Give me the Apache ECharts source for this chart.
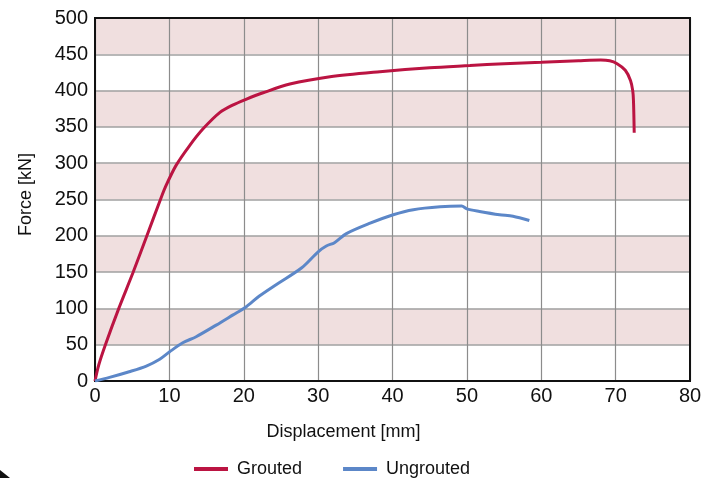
<!DOCTYPE html>
<html>
<head>
<meta charset="utf-8">
<script src="https://cdn.jsdelivr.net/npm/echarts@6/dist/echarts.min.js"></script>
<style>
html,body{margin:0;padding:0;background:#fff;}
#chart{width:716px;height:478px;}
</style>
</head>
<body>
<div id="chart"></div>
<script>
const groutedX = [0,0.5,1.4,3.2,5.1,6.9,8.8,9.5,10.9,12.7,14.5,16.8,18.5,20.3,22.6,26.2,31.6,38.3,45,50.4,55,60,65,68,69.2,70.2,71.3,72.0,72.3,72.4,72.5];
const groutedY = [0,22,50,100,149,198,250,268,297,324,347,370,380,388,397,409,419,426,431.5,434.5,437,439,441,442,441,437,428,414,400,386,342];
const ungroutedX = [0,1.95,4.6,6.9,8.7,10,11.8,13.6,16.3,18.5,20.3,22.1,24.4,27.8,30,31.1,32.2,33.8,36.9,40.1,42.8,46.4,49.3,50,51.7,54.4,56.2,58.4];
const ungroutedY = [0,5,12.8,20.6,30,40,52.6,61,77,90.7,102,117,133,156,178,186,190.5,203,217,229,236,240,241,237,233.5,229,227,221];
const seriesNames = ['Grouted','Ungrouted'];
const xTicks = [0,10,20,30,40,50,60,70,80];
const yTicks = [0,50,100,150,200,250,300,350,400,450,500];

const zip = (xs, ys) => xs.map((x, i) => [x, ys[i]]);
const font = 'Liberation Sans, Arial, Helvetica, sans-serif';

const chart = echarts.init(document.getElementById('chart'));
chart.setOption({
  animation: false,
  grid: {left: 95, top: 18, right: 26, bottom: 97, show: true, borderColor: '#111', borderWidth: 2, backgroundColor: 'transparent', z: 3},
  legend: {
    data: seriesNames,
    top: 455, left: 189,
    itemWidth: 34, itemHeight: 4, itemGap: 41,
    icon: 'rect',
    textStyle: {fontFamily: font, fontSize: 18, color: '#111', padding: [0,0,0,4]}
  },
  xAxis: {
    type: 'value', min: xTicks[0], max: xTicks[xTicks.length-1], interval: 10,
    name: 'Displacement [mm]', nameLocation: 'middle', nameGap: 42,
    nameTextStyle: {fontFamily: font, fontSize: 18, color: '#111', padding: [0, 98, 0, 0]},
    axisLine: {show: true, onZero: false, lineStyle: {color: '#111', width: 2}},
    axisTick: {show: false},
    axisLabel: {fontFamily: font, fontSize: 20, color: '#111', margin: 5},
    splitLine: {show: true, lineStyle: {color: '#8c8c8c', width: 1.2}}
  },
  yAxis: {
    type: 'value', min: yTicks[0], max: yTicks[yTicks.length-1], interval: 50,
    name: 'Force [kN]', nameLocation: 'middle', nameGap: 60,
    nameTextStyle: {fontFamily: font, fontSize: 18, color: '#111', padding: [0, 0, 0, 10]},
    axisLine: {show: true, onZero: false, lineStyle: {color: '#111', width: 2}},
    axisTick: {show: false},
    axisLabel: {fontFamily: font, fontSize: 20, color: '#111', margin: 7},
    splitLine: {show: true, lineStyle: {color: '#a0a0a0', width: 1.5}},
    splitArea: {show: true, areaStyle: {color: ['#ffffff', '#f0dfdf']}}
  },
  graphic: [{type: 'polygon', shape: {points: [[0,470],[10,478],[0,478]]}, style: {fill: '#111'}}],
  series: [
    {name: seriesNames[0], type: 'line', data: zip(groutedX, groutedY), smooth: 0.3, showSymbol: false, symbol: 'none',
     lineStyle: {color: '#bb1442', width: 3}, itemStyle: {color: '#bb1442'}, z: 5},
    {name: seriesNames[1], type: 'line', data: zip(ungroutedX, ungroutedY), smooth: 0.3, showSymbol: false, symbol: 'none',
     lineStyle: {color: '#5c87c8', width: 3}, itemStyle: {color: '#5c87c8'}, z: 5}
  ]
});
</script>
</body>
</html>
